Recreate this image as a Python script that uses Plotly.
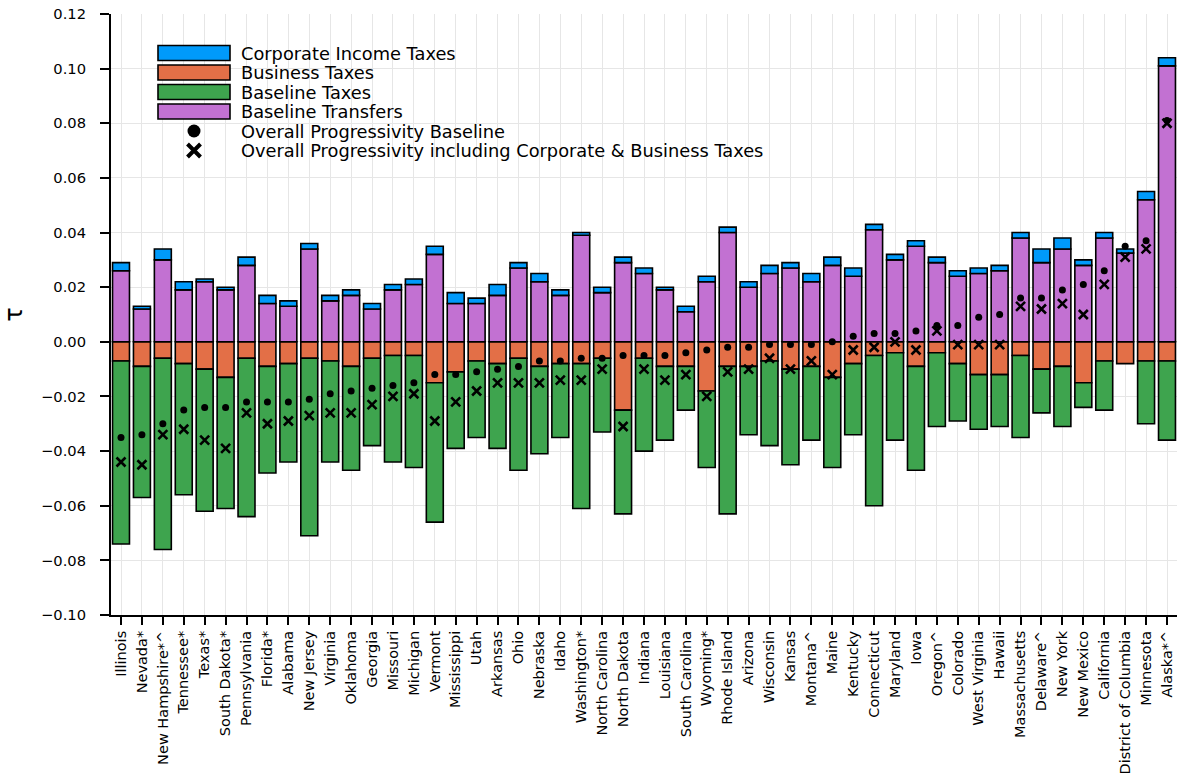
import plotly.graph_objects as go

# State labels (ordered by overall progressivity)
states = [
    "Illinois", "Nevada*", "New Hampshire*^", "Tennessee*", "Texas*", "South Dakota*",
    "Pennsylvania", "Florida*", "Alabama", "New Jersey", "Virginia", "Oklahoma",
    "Georgia", "Missouri", "Michigan", "Vermont", "Mississippi", "Utah", "Arkansas",
    "Ohio", "Nebraska", "Idaho", "Washington*", "North Carolina", "North Dakota",
    "Indiana", "Louisiana", "South Carolina", "Wyoming*", "Rhode Island", "Arizona",
    "Wisconsin", "Kansas", "Montana^", "Maine", "Kentucky", "Connecticut", "Maryland",
    "Iowa", "Oregon^", "Colorado", "West Virginia", "Hawaii", "Massachusetts",
    "Delaware^", "New York", "New Mexico", "California", "District of Columbia",
    "Minnesota", "Alaska*^",
]

# Stacked components of tau
baseline_transfers = [
    0.026, 0.012, 0.030, 0.019, 0.022, 0.019, 0.028, 0.014, 0.013, 0.034, 0.015, 0.017,
    0.012, 0.019, 0.021, 0.032, 0.014, 0.014, 0.017, 0.027, 0.022, 0.017, 0.039, 0.018,
    0.029, 0.025, 0.019, 0.011, 0.022, 0.040, 0.020, 0.025, 0.027, 0.022, 0.028, 0.024,
    0.041, 0.030, 0.035, 0.029, 0.024, 0.025, 0.026, 0.038, 0.029, 0.034, 0.028, 0.038,
    0.0325, 0.052, 0.101,
]
corporate_income_taxes = [
    0.003, 0.001, 0.004, 0.003, 0.001, 0.001, 0.003, 0.003, 0.002, 0.002, 0.002, 0.002,
    0.002, 0.002, 0.002, 0.003, 0.004, 0.002, 0.004, 0.002, 0.003, 0.002, 0.001, 0.002,
    0.002, 0.002, 0.001, 0.002, 0.002, 0.002, 0.002, 0.003, 0.002, 0.003, 0.003, 0.003,
    0.002, 0.002, 0.002, 0.002, 0.002, 0.002, 0.002, 0.002, 0.005, 0.004, 0.002, 0.002,
    0.0015, 0.003, 0.003,
]
business_taxes = [
    -0.007, -0.009, -0.006, -0.008, -0.010, -0.013, -0.006, -0.009, -0.008, -0.006, -0.007, -0.009,
    -0.006, -0.005, -0.005, -0.015, -0.011, -0.007, -0.008, -0.006, -0.009, -0.008, -0.008, -0.006,
    -0.025, -0.006, -0.009, -0.009, -0.018, -0.009, -0.009, -0.007, -0.010, -0.009, -0.013, -0.008,
    -0.005, -0.004, -0.009, -0.004, -0.008, -0.012, -0.012, -0.005, -0.010, -0.009, -0.015, -0.007,
    -0.008, -0.007, -0.007,
]
baseline_taxes = [
    -0.067, -0.048, -0.070, -0.048, -0.052, -0.048, -0.058, -0.039, -0.036, -0.065, -0.037, -0.038,
    -0.032, -0.039, -0.041, -0.051, -0.028, -0.028, -0.031, -0.041, -0.032, -0.027, -0.053, -0.027,
    -0.038, -0.034, -0.027, -0.016, -0.028, -0.054, -0.025, -0.031, -0.035, -0.027, -0.033, -0.026,
    -0.055, -0.032, -0.038, -0.027, -0.021, -0.020, -0.019, -0.030, -0.016, -0.022, -0.009, -0.018,
    0.0, -0.023, -0.029,
]
# Overall progressivity markers
overall_baseline = [
    -0.035, -0.034, -0.030, -0.025, -0.024, -0.024, -0.022, -0.022, -0.022, -0.021, -0.019, -0.018,
    -0.017, -0.016, -0.015, -0.012, -0.012, -0.011, -0.010, -0.009, -0.007, -0.007, -0.006, -0.006,
    -0.005, -0.005, -0.005, -0.004, -0.003, -0.002, -0.002, -0.001, -0.001, -0.001, 0.000, 0.002,
    0.003, 0.003, 0.004, 0.006, 0.006, 0.009, 0.010, 0.016, 0.016, 0.019, 0.021, 0.026,
    0.035, 0.037, 0.081,
]
overall_with_corp_business = [
    -0.044, -0.045, -0.034, -0.032, -0.036, -0.039, -0.026, -0.030, -0.029, -0.027, -0.026, -0.026,
    -0.023, -0.020, -0.019, -0.029, -0.022, -0.018, -0.015, -0.015, -0.015, -0.014, -0.014, -0.010,
    -0.031, -0.010, -0.014, -0.012, -0.020, -0.011, -0.010, -0.006, -0.010, -0.007, -0.012, -0.003,
    -0.002, 0.000, -0.003, 0.004, -0.001, -0.001, -0.001, 0.013, 0.012, 0.014, 0.010, 0.021,
    0.031, 0.034, 0.080,
]

legend_labels = [
    "Corporate Income Taxes", "Business Taxes", "Baseline Taxes", "Baseline Transfers",
    "Overall Progressivity Baseline", "Overall Progressivity including Corporate & Business Taxes",
]

BLUE, ORANGE, GREEN, PURPLE = "#009AFA", "#E36F47", "#3EA44E", "#C271D2"
FONT = "DejaVu Sans"

W, H = 1177, 778
ML, MR, MT, MB = 111, 0, 14, 163
PW, PH = W - ML - MR, H - MT - MB


def px(x):
    return (x - ML) / PW


def py(y):
    return (H - MB - y) / PH


fig = go.Figure()

bar_line = dict(color="black", width=1.6)
# relative mode: negatives stack downward, positives upward, in trace order
for vals, col in [
    (business_taxes, ORANGE),
    (baseline_transfers, PURPLE),
    (baseline_taxes, GREEN),
    (corporate_income_taxes, BLUE),
]:
    fig.add_trace(go.Bar(x=states, y=vals, marker=dict(color=col, line=bar_line),
                         showlegend=False))

fig.add_trace(go.Scatter(x=states, y=overall_baseline, mode="markers",
                         marker=dict(symbol="circle", size=7, color="black"),
                         showlegend=False))
fig.add_trace(go.Scatter(x=states, y=overall_with_corp_business, mode="markers",
                         marker=dict(symbol="x-thin", size=9,
                                     line=dict(width=2.6, color="black")),
                         showlegend=False))

# Legend block drawn by hand
shapes = [dict(type="rect", xref="paper", yref="paper", layer="between",
               x0=px(147), x1=px(775), y0=py(170), y1=py(32),
               fillcolor="white", line=dict(width=0))]
row_y = [53, 72.5, 92, 111.5, 131, 150.5]
for yc, col in zip(row_y[:4], [BLUE, ORANGE, GREEN, PURPLE]):
    shapes.append(dict(type="rect", xref="paper", yref="paper", layer="above",
                       x0=px(158), x1=px(230), y0=py(yc + 7.5), y1=py(yc - 7.5),
                       fillcolor=col, line=dict(color="black", width=1.6)))
annotations = []
for yc, lab in zip(row_y, legend_labels):
    annotations.append(dict(x=px(239), y=py(yc), xref="paper", yref="paper",
                            text=lab, showarrow=False, xanchor="left", yanchor="middle",
                            font=dict(family=FONT, size=17.8, color="black")))
fig.add_trace(go.Scatter(x=[px(194)], y=[py(row_y[4])], xaxis="x2", yaxis="y2",
                         mode="markers", marker=dict(symbol="circle", size=13, color="black"),
                         showlegend=False, cliponaxis=False))
fig.add_trace(go.Scatter(x=[px(194)], y=[py(row_y[5])], xaxis="x2", yaxis="y2",
                         mode="markers", marker=dict(symbol="x-thin", size=13,
                                                     line=dict(width=4, color="black")),
                         showlegend=False, cliponaxis=False))

fig.update_layout(
    width=W, height=H,
    margin=dict(l=ML, r=MR, t=MT, b=MB),
    paper_bgcolor="white", plot_bgcolor="white",
    barmode="relative", bargap=0.19,
    font=dict(family=FONT, size=14, color="black"),
    showlegend=False,
    shapes=shapes, annotations=annotations,
    xaxis=dict(
        type="category", range=[-0.478, 50.478], automargin=False,
        tickangle=-90, tickfont=dict(size=14.5),
        showgrid=True, gridcolor="#e6e6e6", gridwidth=1,
        showline=True, linecolor="black", linewidth=2,
        ticks="outside", ticklen=8, tickwidth=2, tickcolor="black",
        zeroline=False,
    ),
    yaxis=dict(
        range=[-0.10, 0.12], automargin=False,
        tickvals=[-0.10, -0.08, -0.06, -0.04, -0.02, 0.0, 0.02, 0.04, 0.06, 0.08, 0.10, 0.12],
        tickformat=".2f", tickfont=dict(size=14.7),
        showgrid=True, gridcolor="#e6e6e6", gridwidth=1,
        showline=True, linecolor="black", linewidth=2,
        ticks="outside", ticklen=9, tickwidth=2, tickcolor="black",
        ticklabelstandoff=11,
        zeroline=False,
        title=dict(text="τ", font=dict(size=24), standoff=12),
    ),
    xaxis2=dict(overlaying="x", range=[0, 1], visible=False),
    yaxis2=dict(overlaying="y", range=[0, 1], visible=False),
)

fig.write_html("out.html")
